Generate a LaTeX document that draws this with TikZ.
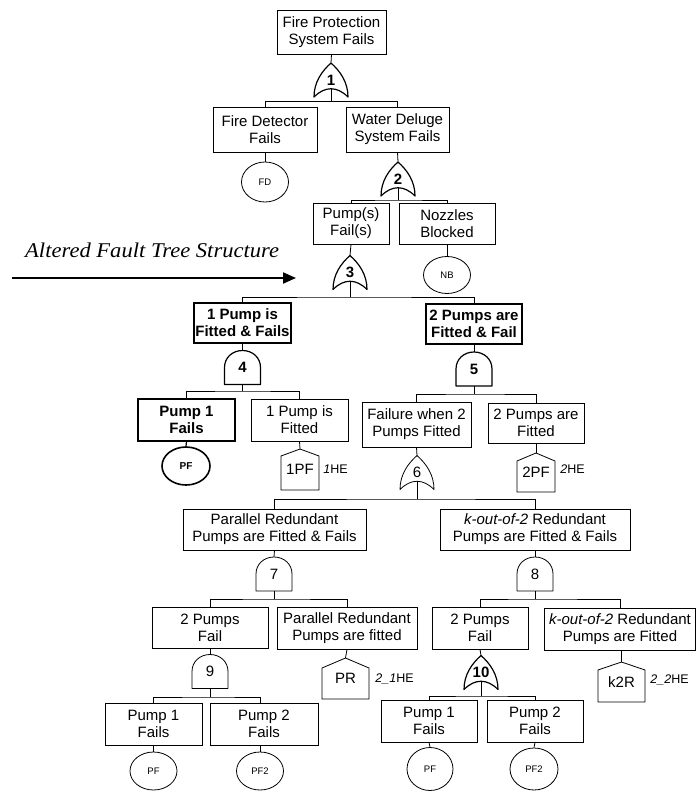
\documentclass[tikz,border=0pt]{standalone}
\usepackage{fontspec}
\setmainfont{Liberation Sans}
\newfontfamily\altserif{Liberation Serif}
\usetikzlibrary{shapes.geometric,arrows.meta}

% gate outlines, drawn round a (borderless) gate node
\newcommand\orshape[2][0.8pt]{%
  \draw[line width=#1, line join=round, shift={(#2.center)}]
    (-17,17) .. controls (-17,2) and (-9,-9) .. (0,-17)
    .. controls (9,-9) and (17,2) .. (17,17)
    .. controls (6,6) and (-6,6) .. cycle;
  \coordinate (#2o) at ([yshift=8.25pt]#2.south);}
\newcommand\andshape[2][0.8pt]{%
  \draw[line width=#1, line join=round, shift={(#2.center)}]
    (-18,17) -- (-18,0) .. controls (-18,-10) and (-10,-17) .. (0,-17)
    .. controls (10,-17) and (18,-10) .. (18,0) -- (18,17) -- cycle;
  \coordinate (#2o) at (#2.south);}
% house event: name, half width, half height, shoulder offset
\newcommand\houseshape[4]{%
  \draw[line width=0.8pt, shift={(#1.center)}]
    (0,-#3) -- (#2,-#4) -- (#2,#3) -- (-#2,#3) -- (-#2,-#4) -- cycle;}
% gate output -> bar -> two inputs
\newcommand\fork[4]{%
  \coordinate (#1j) at (#1o |- 0,#2);
  \draw[wire] (#1o) -- (#1j);
  \draw[wire] (#3) |- (#1j) -| (#4);}

\begin{document}
\begin{tikzpicture}[x=1pt,y=-1pt,
  wire/.style={line width=0.8pt},
  ev/.style={draw, line width=0.8pt, inner sep=1pt, align=center,
    font=\fontsize{15}{17}\selectfont},
  evb/.style={ev, line width=1.6pt, font=\fontsize{15}{17}\selectfont\bfseries},
  basic/.style={draw, ellipse, line width=0.8pt, inner sep=0pt,
    font=\fontsize{9.5}{11}\selectfont},
  gatebox/.style={inner sep=0pt, minimum height=34pt,
    font=\fontsize{15}{17}\selectfont},
  housebox/.style={inner sep=0pt, font=\fontsize{15}{17}\selectfont},
  hlab/.style={anchor=west, inner sep=0pt, font=\fontsize{12.5}{14}\selectfont}]
\useasboundingbox (0,0) rectangle (696,793);

% ---------- events ----------
\node[ev, minimum width=109pt, minimum height=44pt] (top) at (331.5,32) {Fire Protection\\System Fails};
\node[ev, minimum width=104pt, minimum height=45pt] (fdet) at (265,129.5) {Fire Detector\\Fails};
\node[ev, minimum width=103pt, minimum height=45pt] (wds) at (397.5,129.5) {Water Deluge\\System Fails};
\node[ev, minimum width=76pt, minimum height=41pt] (pmp) at (351,223.5) {Pump(s)\\Fail(s)};
\node[ev, minimum width=96pt, minimum height=41pt] (noz) at (447,223.5) {Nozzles\\Blocked};
\node[evb, minimum width=97pt, minimum height=40pt] (one) at (242.5,323) {1 Pump is\\Fitted \& Fails};
\node[evb, minimum width=96pt, minimum height=40pt] (two) at (474,324) {2 Pumps are\\Fitted \& Fail};
\node[evb, minimum width=97pt, minimum height=42pt] (p1f) at (186.5,420) {Pump 1\\Fails};
\node[ev, minimum width=97pt, minimum height=42pt] (onefit) at (299.5,420) {1 Pump is\\Fitted};
\node[ev, minimum width=109pt, minimum height=45pt] (fw2) at (416.5,424.5) {Failure when 2\\Pumps Fitted};
\node[ev, minimum width=96pt, minimum height=40pt] (twofit) at (536,423) {2 Pumps are\\Fitted};
\node[ev, minimum width=183pt, minimum height=41pt] (par) at (274.5,529.5) {Parallel Redundant\\Pumps are Fitted \& Fails};
\node[ev, minimum width=190pt, minimum height=41pt] (kr) at (535,529.5) {\textit{k-out-of-2} Redundant\\Pumps are Fitted \& Fails};
\node[ev, minimum width=116pt, minimum height=41pt] (tfL) at (210,627.5) {2 Pumps\\Fail};
\node[ev, minimum width=140pt, minimum height=42pt] (parfit) at (347,628) {Parallel Redundant\\Pumps are fitted};
\node[ev, minimum width=96pt, minimum height=42pt] (tfR) at (480,628) {2 Pumps\\Fail};
\node[ev, minimum width=151pt, minimum height=42pt] (kfit) at (620,629) {\textit{k-out-of-2} Redundant\\Pumps are Fitted};
\node[ev, minimum width=97pt, minimum height=42pt] (p1L) at (153.5,724) {Pump 1\\Fails};
\node[ev, minimum width=108pt, minimum height=42pt] (p2L) at (264,724) {Pump 2\\Fails};
\node[ev, minimum width=96pt, minimum height=42pt] (p1R) at (429,721) {Pump 1\\Fails};
\node[ev, minimum width=96pt, minimum height=42pt] (p2R) at (535,721) {Pump 2\\Fails};

% ---------- basic events ----------
\node[basic, minimum width=47pt, minimum height=40pt] (fd) at (265,182) {FD};
\node[basic, minimum width=47pt, minimum height=37pt] (nb) at (447,275) {NB};
\node[basic, line width=1.6pt, minimum width=48pt, minimum height=38pt,
  font=\fontsize{10}{12}\selectfont\bfseries] (pf) at (186,466) {PF};
\node[basic, minimum width=47pt, minimum height=38pt] (pfL) at (153.5,771) {PF};
\node[basic, minimum width=47pt, minimum height=38pt] (pf2L) at (260,771) {PF2};
\node[basic, minimum width=46pt, minimum height=43pt] (pfR) at (430,769) {PF};
\node[basic, minimum width=48pt, minimum height=42pt] (pf2R) at (534,769) {PF2};

% ---------- house events ----------
\node[housebox, minimum width=38pt, minimum height=41pt] (h1) at (300,469.5) {1PF};
\houseshape{h1}{19}{20.5}{13.5}
\node[hlab] (h1l) at ([xshift=4pt]h1.east) {\textit{1}HE};
\node[housebox, minimum width=38pt, minimum height=39pt] (h2) at (536,472.5) {2PF};
\houseshape{h2}{19}{19.5}{11.5}
\node[hlab] (h2l) at ([xshift=5pt,yshift=3pt]h2.east) {\textit{2}HE};
\node[housebox, minimum width=47pt, minimum height=41pt] (hpr) at (345.5,678.5) {PR};
\houseshape{hpr}{23.5}{20.5}{10.5}
\node[hlab] (hprl) at ([xshift=6pt]hpr.east) {\textit{2\_1}HE};
\node[housebox, minimum width=47pt, minimum height=40pt] (hk) at (621.5,682) {k2R};
\houseshape{hk}{23.5}{20}{12}
\node[hlab] (hkl) at ([xshift=5pt,yshift=2pt]hk.east) {\textit{2\_2}HE};

% ---------- gates ----------
\node[gatebox, minimum width=34pt] (g1) at (331,80) {\bfseries 1};
\orshape[1.2pt]{g1}
\node[gatebox, minimum width=34pt] (g2) at (398,179) {\bfseries 2};
\orshape[1.2pt]{g2}
\node[gatebox, minimum width=34pt] (g3) at (350,272.5) {\bfseries 3};
\orshape[1.2pt]{g3}
\node[gatebox, minimum width=36pt] (g4) at (242.5,367.5) {\bfseries 4};
\andshape[1.2pt]{g4}
\node[gatebox, minimum width=36pt] (g5) at (474,369) {\bfseries 5};
\andshape[1.2pt]{g5}
\node[gatebox, minimum width=34pt] (g6) at (417,472.5) {6};
\orshape{g6}
\node[gatebox, minimum width=36pt] (g7) at (274,574) {7};
\andshape{g7}
\node[gatebox, minimum width=36pt] (g8) at (535,574) {8};
\andshape{g8}
\node[gatebox, minimum width=36pt] (g9) at (210,671.5) {9};
\andshape{g9}
\node[gatebox, minimum width=34pt] (g10) at (481,672.5) {\bfseries 10};
\orshape[1.2pt]{g10}

% ---------- connectors ----------
\draw[wire] (top.south) -- (g1.north);
\fork{g1}{101.7}{fdet.north}{wds.north}
\draw[wire] (fdet.south) -- (fd.north);
\draw[wire] (wds.south) -- (g2.north);
\fork{g2}{200}{pmp.north}{noz.north}
\draw[wire] (noz.south) -- (nb.north);
\draw[wire] (pmp.south) -- (g3.north);
\fork{g3}{297}{one.north}{two.north}
\draw[wire] (one.south) -- (g4.north);
\fork{g4}{391}{p1f.north}{onefit.north}
\draw[wire, line width=1.2pt] (p1f.south) -- (pf.north);
\draw[wire] (onefit.south) -- (h1.north);
\draw[wire] (two.south) -- (g5.north);
\fork{g5}{394}{fw2.north}{twofit.north}
\draw[wire] (twofit.south) -- (h2.north);
\draw[wire] (fw2.south) -- (g6.north);
\fork{g6}{499}{par.north}{kr.north}
\draw[wire] (par.south) -- (g7.north);
\fork{g7}{599}{tfL.north}{parfit.north}
\draw[wire] (parfit.south) -- (hpr.north);
\draw[wire] (kr.south) -- (g8.north);
\fork{g8}{599}{tfR.north}{kfit.north}
\draw[wire] (kfit.south -| hk.north) -- (hk.north);
\draw[wire] (tfL.south) -- (g9.north);
\fork{g9}{697}{p1L.north}{pf2L.north |- p2L.north}
\draw[wire] (p1L.south) -- (pfL.north);
\draw[wire] (pf2L.north |- p2L.south) -- (pf2L.north);
\draw[wire] (tfR.south) -- (g10.north);
\fork{g10}{696}{p1R.north}{p2R.north}
\draw[wire] (p1R.south) -- (pfR.north);
\draw[wire] (p2R.south) -- (pf2R.north);

% ---------- side note ----------
\node[anchor=base west, inner sep=0pt, font=\altserif\itshape\fontsize{21}{24}\selectfont]
  (alt) at (25,257) {\scalebox{1.075}[1]{Altered Fault Tree Structure}};
\coordinate (arrS) at (12,278);
\coordinate (arrE) at (296,278);
\draw[line width=2pt, -{Triangle[length=13pt,width=11pt]}] (arrS) -- (arrE);
\end{tikzpicture}
\end{document}
